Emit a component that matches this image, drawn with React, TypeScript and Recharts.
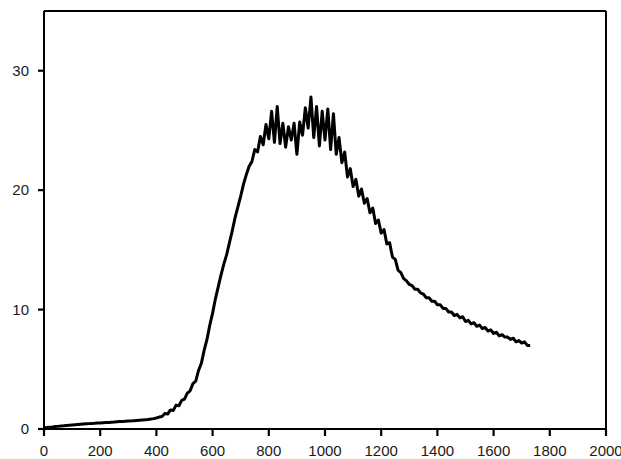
import React from 'react';
import { LineChart, Line, XAxis, YAxis, ReferenceLine } from 'recharts';

const xValues = [
  0, 10, 20, 30, 40, 50, 60, 70, 80, 90,
  100, 110, 120, 130, 140, 150, 160, 170, 180, 190,
  200, 210, 220, 230, 240, 250, 260, 270, 280, 290,
  300, 310, 320, 330, 340, 350, 360, 370, 380, 390,
  400, 410, 420, 430, 440, 450, 460, 470, 480, 490,
  500, 510, 520, 530, 540, 550, 560, 570, 580, 590,
  600, 610, 620, 630, 640, 650, 660, 670, 680, 690,
  700, 710, 720, 730, 740, 750, 760, 770, 780, 790,
  800, 810, 820, 830, 840, 850, 860, 870, 880, 890,
  900, 910, 920, 930, 940, 950, 960, 970, 980, 990,
  1000, 1010, 1020, 1030, 1040, 1050, 1060, 1070, 1080, 1090,
  1100, 1110, 1120, 1130, 1140, 1150, 1160, 1170, 1180, 1190,
  1200, 1210, 1220, 1230, 1240, 1250, 1260, 1270, 1280, 1290,
  1300, 1310, 1320, 1330, 1340, 1350, 1360, 1370, 1380, 1390,
  1400, 1410, 1420, 1430, 1440, 1450, 1460, 1470, 1480, 1490,
  1500, 1510, 1520, 1530, 1540, 1550, 1560, 1570, 1580, 1590,
  1600, 1610, 1620, 1630, 1640, 1650, 1660, 1670, 1680, 1690,
  1700, 1710, 1720, 1730,
];

const yValues = [
  0.1, 0.12, 0.15, 0.17, 0.2, 0.22, 0.25, 0.27, 0.3, 0.32,
  0.34, 0.36, 0.38, 0.4, 0.42, 0.44, 0.45, 0.47, 0.48, 0.5,
  0.5, 0.52, 0.54, 0.55, 0.57, 0.58, 0.6, 0.62, 0.63, 0.65,
  0.67, 0.68, 0.7, 0.72, 0.74, 0.76, 0.78, 0.8, 0.83, 0.87,
  0.92, 1.0, 1.05, 1.3, 1.25, 1.6, 1.55, 2.0, 1.95, 2.4,
  2.5, 3.0, 3.2, 3.8, 4.0, 4.9, 5.5, 6.6, 7.5, 8.7,
  9.7, 10.9, 11.9, 12.9, 13.8, 14.6, 15.6, 16.6, 17.7, 18.6,
  19.5, 20.5, 21.3, 22.0, 22.4, 23.4, 23.2, 24.5, 23.8, 25.5,
  24.3, 26.6, 24.0, 27.0, 23.9, 25.6, 23.6, 25.3, 24.2, 25.6,
  23.0, 25.7, 24.6, 26.9, 25.2, 27.8, 24.4, 27.0, 23.7, 26.6,
  24.2, 26.8, 23.4, 26.4, 23.0, 24.4, 22.3, 23.2, 21.1, 21.8,
  20.3, 20.9, 19.5, 20.1, 18.9, 19.3, 18.1, 18.5, 17.2, 17.5,
  16.4, 16.7, 15.5, 15.6, 14.4, 14.2, 13.3, 13.1, 12.6, 12.4,
  12.1, 12.0, 11.7, 11.7, 11.4, 11.3, 11.0, 11.0, 10.7, 10.7,
  10.4, 10.4, 10.1, 10.1, 9.8, 9.8, 9.5, 9.6, 9.3, 9.4,
  9.0, 9.1, 8.8, 8.9, 8.6, 8.7, 8.4, 8.5, 8.2, 8.3,
  8.0, 8.1, 7.8, 7.9, 7.7, 7.7, 7.5, 7.6, 7.3, 7.4,
  7.2, 7.3, 7.0, 7.0,
];

const xTicks = [0, 200, 400, 600, 800, 1000, 1200, 1400, 1600, 1800, 2000];
const yTicks = [0, 10, 20, 30];
const xMax = 2000;
const yMax = 35;

const data = xValues.map((x, i) => ({ x, y: yValues[i] }));

const font = "'Liberation Sans', Arial, sans-serif";
const axisStyle = { stroke: '#000', strokeWidth: 2 };

const XTick = (props: any) => {
  const { x, y, payload } = props;
  return (
    <g>
      <line x1={x} x2={x} y1={y - 16} y2={y - 9} stroke="#000" strokeWidth={2.2} />
      <text x={x} y={y} dy="0.71em" textAnchor="middle" fill="#1a1a1a" fontSize={15} fontFamily={font}>
        {payload.value}
      </text>
    </g>
  );
};

const YTick = (props: any) => {
  const { x, y, payload } = props;
  return (
    <g>
      <line x1={x + 9} x2={x + 15} y1={y} y2={y} stroke="#000" strokeWidth={2.2} />
      <text x={x} y={y} dy="0.355em" textAnchor="end" fill="#1a1a1a" fontSize={15} fontFamily={font}>
        {payload.value}
      </text>
    </g>
  );
};

export default function App() {
  return (
    <div style={{ position: 'absolute', left: 0, top: 0, width: 621, height: 459, background: '#fff' }}>
      <LineChart width={621} height={459} data={data} margin={{ top: 11, right: 15, bottom: 0, left: 0 }}>
        <XAxis
          dataKey="x"
          type="number"
          domain={[0, xMax]}
          ticks={xTicks}
          interval={0}
          stroke="#000"
          tickSize={7}
          tickMargin={9}
          height={30}
          axisLine={axisStyle}
          tickLine={false}
          tick={<XTick />}
        />
        <YAxis
          type="number"
          domain={[0, yMax]}
          ticks={yTicks}
          interval={0}
          stroke="#000"
          tickSize={6}
          tickMargin={9}
          width={44}
          axisLine={axisStyle}
          tickLine={false}
          tick={<YTick />}
        />
        <ReferenceLine x={xMax} stroke="#000" strokeWidth={2} />
        <ReferenceLine y={yMax} stroke="#000" strokeWidth={2} />
        <Line
          dataKey="y"
          type="linear"
          stroke="#000"
          strokeWidth={3}
          strokeLinejoin="round"
          dot={false}
          isAnimationActive={false}
        />
      </LineChart>
    </div>
  );
}
